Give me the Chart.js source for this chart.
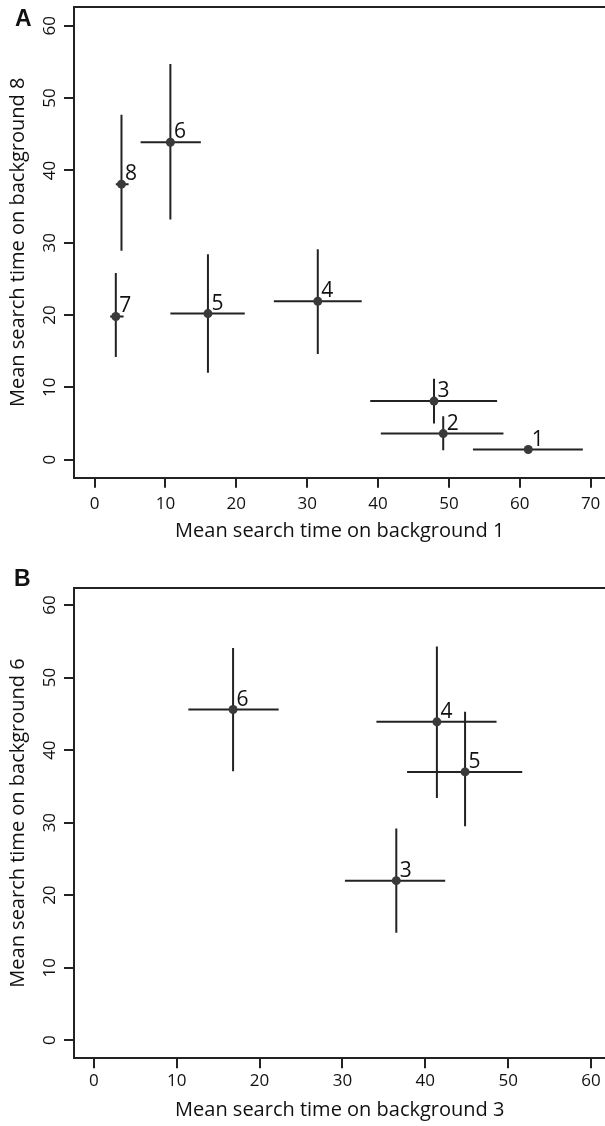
<!DOCTYPE html>
<html>
<head>
<meta charset="utf-8">
<script src="https://cdn.jsdelivr.net/npm/chart.js@4"></script>
<style>
  body { margin: 0; background: #fff; width: 605px; height: 1126px; overflow: hidden; position: relative; }
  .wrap { position: absolute; left: 0; width: 605px; overflow: hidden; }
  .tag { position: absolute; font-family: "Liberation Sans", Arial, sans-serif; font-weight: bold; font-size: 23px; line-height: 23px; color: #111; }
</style>
</head>
<body>
<div class="wrap" style="top:0;height:560px"><canvas id="panelA" width="610" height="560"></canvas></div>
<div class="wrap" style="top:560px;height:566px"><canvas id="panelB" width="610" height="566"></canvas></div>
<div class="tag" style="left:15px;top:7px">A</div>
<div class="tag" style="left:14px;top:567px">B</div>
<script>
// panel A: background 1 (x) vs background 8 (y)
const idsA = ['1', '2', '3', '4', '5', '6', '7', '8'];
const bg1Mean = [61.2, 49.2, 47.9, 31.5, 16.0, 10.7, 3.0, 3.8];
const bg1Lo = [53.4, 40.4, 38.9, 25.3, 10.7, 6.5, 2.2, 3.0];
const bg1Hi = [68.9, 57.7, 56.8, 37.7, 21.2, 15.0, 4.1, 4.8];
const bg8Mean = [1.4, 3.6, 8.1, 21.9, 20.2, 43.9, 19.8, 38.1];
const bg8Lo = [1.0, 1.3, 5.0, 14.6, 12.0, 33.2, 14.2, 28.9];
const bg8Hi = [1.8, 6.0, 11.2, 29.1, 28.4, 54.7, 25.8, 47.7];

// panel B: background 3 (x) vs background 6 (y)
const idsB = ['6', '4', '5', '3'];
const bg3Mean = [16.8, 41.4, 44.8, 36.5];
const bg3Lo = [11.4, 34.1, 37.8, 30.3];
const bg3Hi = [22.3, 48.6, 51.7, 42.4];
const bg6Mean = [45.6, 43.9, 37.0, 22.0];
const bg6Lo = [37.1, 33.4, 29.5, 14.8];
const bg6Hi = [54.1, 54.3, 45.3, 29.2];

const xTicksA = [0, 10, 20, 30, 40, 50, 60, 70];
const xTicksB = [0, 10, 20, 30, 40, 50, 60];
const yTicks = [0, 10, 20, 30, 40, 50, 60];

const ink = '#222';
const dot = '#3a3a3a';

// small id numbers next to each mean point
const pointLabels = {
  id: 'pointLabels',
  afterDatasetsDraw(chart, args, opts) {
    const ctx = chart.ctx;
    const xs = chart.scales.x, ys = chart.scales.y;
    ctx.save();
    ctx.font = '21px "Open Sans"';
    ctx.fillStyle = '#111';
    ctx.textAlign = 'left';
    ctx.textBaseline = 'alphabetic';
    opts.ids.forEach((t, i) => {
      ctx.fillText(t, xs.getPixelForValue(opts.xs[i]) + 3.5, ys.getPixelForValue(opts.ys[i]) - 4);
    });
    ctx.restore();
  }
};

function makePanel(id, cfg) {
  const datasets = [{
    type: 'scatter',
    data: cfg.xm.map((v, i) => ({x: v, y: cfg.ym[i]})),
    pointRadius: 4.5,
    pointBackgroundColor: dot,
    pointBorderColor: dot,
    pointBorderWidth: 0
  }];
  // error bars as two-point lines
  cfg.xm.forEach((v, i) => {
    datasets.push({
      type: 'line',
      data: [{x: cfg.xlo[i], y: cfg.ym[i]}, {x: cfg.xhi[i], y: cfg.ym[i]}],
      borderColor: ink, borderWidth: 2, pointRadius: 0, fill: false
    });
    datasets.push({
      type: 'line',
      data: [{x: v, y: cfg.ylo[i]}, {x: v, y: cfg.yhi[i]}],
      borderColor: ink, borderWidth: 2, pointRadius: 0, fill: false
    });
  });

  const H = cfg.height;
  return new Chart(document.getElementById(id), {
    data: {datasets: datasets},
    plugins: [pointLabels],
    options: {
      responsive: false,
      animation: false,
      layout: {padding: {top: cfg.top, left: 0, right: 0, bottom: 0}},
      plugins: {
        legend: {display: false},
        tooltip: {enabled: false},
        pointLabels: {ids: cfg.ids, xs: cfg.xm, ys: cfg.ym}
      },
      scales: {
        x: {
          type: 'linear', position: 'bottom',
          min: cfg.xmin, max: cfg.xmax,
          afterBuildTicks: s => { s.ticks = cfg.xticks.map(v => ({value: v})); },
          afterFit: s => { s.height = H - cfg.bottom; s.paddingLeft = 0; s.paddingRight = 0; },
          grid: {drawOnChartArea: false, drawTicks: true, tickLength: 10, color: ink, lineWidth: 2},
          border: {display: true, color: ink, width: 2},
          ticks: {font: {family: 'Open Sans', size: 17}, color: '#111', padding: cfg.xpad, maxRotation: 0, autoSkip: false},
          title: {display: true, text: cfg.xtitle, font: {family: 'Open Sans', size: 20}, color: '#111', padding: {top: 0, bottom: cfg.xtitlePad}}
        },
        x2: {
          type: 'linear', position: 'top', display: true,
          min: cfg.xmin, max: cfg.xmax,
          afterFit: s => { s.height = 0; s.paddingLeft = 0; s.paddingRight = 0; },
          grid: {display: false},
          ticks: {display: false},
          border: {display: true, color: ink, width: 2}
        },
        y: {
          type: 'linear', position: 'left',
          min: cfg.ymin, max: cfg.ymax,
          afterBuildTicks: s => { s.ticks = yTicks.map(v => ({value: v})); },
          afterFit: s => { s.width = 74; s.paddingTop = 0; s.paddingBottom = 0; },
          grid: {drawOnChartArea: false, drawTicks: true, tickLength: 10, color: ink, lineWidth: 2},
          border: {display: true, color: ink, width: 2},
          ticks: {font: {family: 'Open Sans', size: 17}, color: '#111', padding: 4, minRotation: 90, maxRotation: 90, crossAlign: 'center', autoSkip: false},
          title: {display: true, text: cfg.ytitle, font: {family: 'Open Sans', size: 20}, color: '#111', padding: {top: 6, bottom: 0}}
        }
      }
    }
  });
}

makePanel('panelA', {
  height: 560, top: 7, bottom: 477.7,
  xmin: -2.9, xmax: 72.1, ymin: -2.5, ymax: 62.6,
  xticks: xTicksA, xpad: 6, xtitlePad: 17,
  ids: idsA, xm: bg1Mean, xlo: bg1Lo, xhi: bg1Hi, ym: bg8Mean, ylo: bg8Lo, yhi: bg8Hi,
  xtitle: 'Mean search time on background 1',
  ytitle: 'Mean search time on background 8'
});

makePanel('panelB', {
  height: 566, top: 27.7, bottom: 498.3,
  xmin: -2.4, xmax: 61.75, ymin: -2.5, ymax: 62.4,
  xticks: xTicksB, xpad: 3, xtitlePad: 4,
  ids: idsB, xm: bg3Mean, xlo: bg3Lo, xhi: bg3Hi, ym: bg6Mean, ylo: bg6Lo, yhi: bg6Hi,
  xtitle: 'Mean search time on background 3',
  ytitle: 'Mean search time on background 6'
});
</script>
</body>
</html>
